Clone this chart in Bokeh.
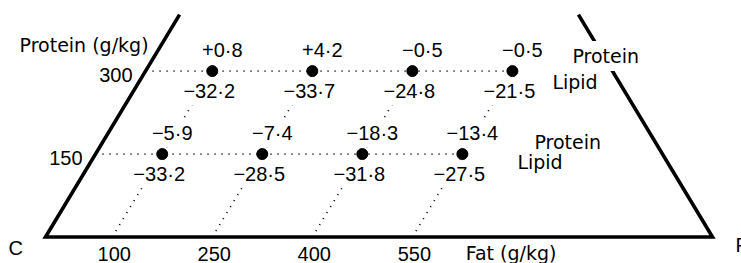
from bokeh.plotting import figure
from bokeh.models import Range1d
from bokeh.core.properties import value
from bokeh.embed import file_html
from bokeh.resources import INLINE

# ---------------- data ----------------
fat_levels = [100, 250, 400, 550]          # g/kg
protein_levels = [300, 150]                # g/kg
protein_change_p300 = [0.8, 4.2, -0.5, -0.5]
lipid_change_p300 = [-32.2, -33.7, -24.8, -21.5]
protein_change_p150 = [-5.9, -7.4, -18.3, -13.4]
lipid_change_p150 = [-33.2, -28.5, -31.8, -27.5]
fat_tick_labels = ["100", "250", "400", "550"]
protein_tick_labels = ["300", "150"]
total = 1000          # g/kg, triangle side (C -> F)
edge_top = 402        # protein level where the drawn triangle sides stop

# ---------------- geometry ----------------
W, H = 741, 263
SX = 0.667            # px per g/kg along the fat side
SY = 0.553            # px per g/kg of protein (vertical)
ORX, ORY = 45, 236.5  # pixel position of corner C
X0, X1 = -ORX / SX, (W - ORX) / SX
Y0, Y1 = -(H - ORY) / SY, ORY / SY
TEXT_FIX = -6         # baseline correction for rendered text (px)


def tx(fat, prot):
    # ternary projection: horizontal position
    return fat + 0.5 * prot


def at(fat, prot, ox=0.0, oy=0.0):
    # ox, oy : screen-pixel offsets (oy positive = downward)
    return tx(fat, prot) + ox / SX, prot - oy / SY


def tat(fat, prot, ox=0.0, oy=0.0):
    return at(fat, prot, ox, oy + TEXT_FIX)


def fmt(v, plus=False):
    s = f"{abs(v):.1f}".replace(".", "\u00b7")
    if v < 0:
        return "\u2212" + s
    return ("+" + s) if plus else s


NUMF = value("Liberation Sans")
WORDF = value("DejaVu Sans")
FS = "19px"
NFS = "20px"
INK = "#000000"

p = figure(width=W, height=H, x_range=Range1d(X0, X1), y_range=Range1d(Y0, Y1),
           output_backend="svg", toolbar_location=None, min_border=0,
           x_axis_location=None, y_axis_location=None)
p.grid.visible = False
p.outline_line_color = None
p.background_fill_color = "white"
p.border_fill_color = "white"

# triangle sides (C at fat 0, F at fat = total)
p.line([tx(0, edge_top), tx(0, 0), tx(total, 0), tx(total - edge_top, edge_top)],
       [edge_top, 0, 0, edge_top], line_color=INK, line_width=3.6, line_join="miter")

# dotted guide lines
hx, hy = [], []
for pr in protein_levels:
    hx.append([tx(0, pr), tx(fat_levels[-1], pr)])
    hy.append([pr, pr])
for f in fat_levels:
    hx.append([tx(f, 0), tx(f, max(protein_levels))])
    hy.append([0, max(protein_levels)])
p.multi_line(hx, hy, line_color=INK, line_width=1.7, line_dash="1 6")

# value labels (white background masks the dotted lines)
rows = {300: (protein_change_p300, lipid_change_p300),
        150: (protein_change_p150, lipid_change_p150)}
lx, ly, lt = [], [], []
for pr in protein_levels:
    pc, lc = rows[pr]
    for f, a, b in zip(fat_levels, pc, lc):
        x, y = tat(f, pr, 10, -15)
        lx.append(x); ly.append(y); lt.append(fmt(a, plus=True))
        x, y = tat(f, pr, -3, 26)
        lx.append(x); ly.append(y); lt.append(fmt(b))
p.text(lx, ly, text=lt, text_font=NUMF, text_font_size=NFS, text_color=INK,
       text_align="center", text_baseline="alphabetic",
       background_fill_color="white", padding=3)

# row side labels
side_offsets = {300: ((56, -9), (40, 17)), 150: ((68, -6), (55, 14))}
pxs, pys, lxs, lys = [], [], [], []
for pr in protein_levels:
    (po, lo) = side_offsets[pr]
    x, y = tat(fat_levels[-1], pr, *po)
    pxs.append(x); pys.append(y)
    x, y = tat(fat_levels[-1], pr, *lo)
    lxs.append(x); lys.append(y)
p.text(pxs, pys, text=["Protein"] * len(pxs), text_font=WORDF, text_font_size=FS,
       text_color=INK, text_align="left", text_baseline="alphabetic",
       background_fill_color="white", padding=4)
p.text(lxs, lys, text=["Lipid"] * len(lxs), text_font=WORDF, text_font_size=FS,
       text_color=INK, text_align="left", text_baseline="alphabetic")

# points
px_, py_ = [], []
for pr in protein_levels:
    for f in fat_levels:
        px_.append(tx(f, pr)); py_.append(pr)
p.scatter(px_, py_, size=11, color=INK)

# axis labels
tx_, ty_ = [], []
for f in fat_levels:
    x, y = tat(f, 0, 2, 22.5)
    tx_.append(x); ty_.append(y)
p.text(tx_, ty_, text=fat_tick_labels, text_font=NUMF, text_font_size=NFS,
       text_color=INK, text_align="center", text_baseline="alphabetic")

qx, qy = [], []
for pr in protein_levels:
    x, y = tat(0, pr, -13, 10)
    qx.append(x); qy.append(y)
p.text(qx, qy, text=protein_tick_labels, text_font=NUMF, text_font_size=NFS,
       text_color=INK, text_align="right", text_baseline="alphabetic")

ox, oy = [], []
names = ["Protein (g/kg)", "Fat (g/kg)"]
for (f, pr, a, b) in [(0, 300, -126, -20), (630, 0, 0, 22)]:
    x, y = tat(f, pr, a, b)
    ox.append(x); oy.append(y)
p.text(ox, oy, text=names, text_font=WORDF, text_font_size=FS, text_color=INK,
       text_align="left", text_baseline="alphabetic")

cx, cy = [], []
for (f, pr, a, b) in [(0, 0, -37, 16.5), (total, 0, 23, 14)]:
    x, y = tat(f, pr, a, b)
    cx.append(x); cy.append(y)
p.text(cx, cy, text=["C", "F"], text_font=NUMF, text_font_size=NFS, text_color=INK,
       text_align="left", text_baseline="alphabetic")

open("out.html", "w").write(file_html(p, INLINE))
